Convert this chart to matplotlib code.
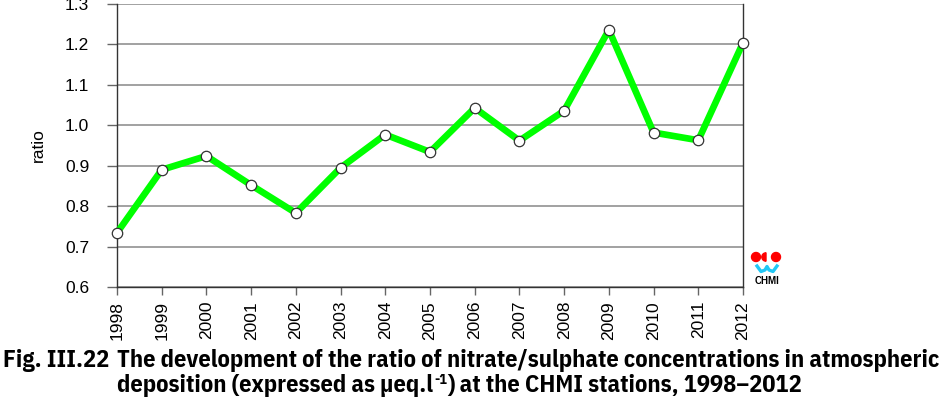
import matplotlib
matplotlib.use('Agg')
import matplotlib.pyplot as plt
from matplotlib import font_manager
from matplotlib.patches import Circle, Wedge

years = [1998, 1999, 2000, 2001, 2002, 2003, 2004, 2005,
         2006, 2007, 2008, 2009, 2010, 2011, 2012]
ratio = [0.734, 0.890, 0.924, 0.852, 0.783, 0.895, 0.977, 0.934,
         1.043, 0.962, 1.036, 1.236, 0.982, 0.963, 1.204]
yticks = [0.6, 0.7, 0.8, 0.9, 1.0, 1.1, 1.2, 1.3]

caption1 = 'The development of the ratio of nitrate/sulphate concentrations in atmospheric'
caption2a = 'deposition (expressed as µeq.l'
caption2b = ') at the CHMI stations, 1998\u20132012'

plt.rcParams['font.family'] = ['Liberation Sans', 'DejaVu Sans']

W, H = 950, 399
fig = plt.figure(figsize=(W / 100, H / 100), dpi=100)
fig.patch.set_facecolor('white')
ax = fig.add_axes([117 / W, 1 - 287 / H, 626 / W, 283 / H])

ax.plot(years, ratio, color='#00ff00', linewidth=4.8, zorder=3,
        marker='o', markersize=7.5, markerfacecolor='white',
        markeredgecolor='#333333', markeredgewidth=0.9, clip_on=False)

ax.set_xlim(1998, 2012)
ax.set_ylim(0.6, 1.3)
ax.set_yticks(yticks)
ax.set_yticklabels([f'{v:.1f}' for v in yticks])
ax.set_xticks(years)
ax.set_xticklabels([str(y) for y in years], rotation=90)
ax.yaxis.grid(True, color='#888888', linewidth=1.1)
ax.set_axisbelow(True)
for s in ax.spines.values():
    s.set_color('#333333')
    s.set_linewidth(1.0)
ax.spines['top'].set_visible(False)
ax.tick_params(axis='y', direction='out', length=7, width=1, color='#666666',
               labelsize=12.5, pad=13)
ax.tick_params(axis='x', direction='out', length=6, width=1, color='#666666',
               labelsize=12.5, pad=4)
ax.set_ylabel('ratio', fontsize=12.5, labelpad=14)

# CHMI logo (pixel coordinates, origin bottom-left)
for cx in (756, 776):
    fig.add_artist(Circle((cx, H - 257), 4.5, transform=None, color='#ff0000'))
fig.add_artist(Wedge((766, H - 257), 4.2, 90, 270, transform=None, color='#ff0000'))
wave_x = [757, 761, 765, 767, 769, 773, 777]
wave_y = [266, 271.5, 270, 266.5, 270, 271.5, 266]
fig.add_artist(plt.Line2D(wave_x, [H - v for v in wave_y], transform=None,
                          color='#22c8f5', linewidth=2.4, solid_joinstyle='round'))
fig.text(767 / W, 1 - 284 / H, 'CHMI', fontsize=7, fontweight='bold',
         ha='center', va='baseline')

# caption: pick the condensed bold family closest in width to the original
renderer = fig.canvas.get_renderer()
candidates = ['Barlow Semi Condensed', 'IBM Plex Sans Condensed', 'Fira Sans Condensed',
              'Asap Condensed', 'Encode Sans Condensed', 'Roboto Condensed']
best, best_err = None, None
for fam in candidates:
    try:
        font_manager.findfont(font_manager.FontProperties(family=fam, weight='bold'),
                              fallback_to_default=False)
    except ValueError:
        continue
    t = fig.text(0, 0, caption1, fontsize=14, fontweight='bold', family=fam)
    err = abs(t.get_window_extent(renderer).width - 829)
    t.remove()
    if best_err is None or err < best_err:
        best, best_err = fam, err
cap_font = [best or 'Liberation Sans', 'DejaVu Sans']

b1 = 1 - 367 / H
b2 = 1 - 392 / H
t1 = fig.text(117 / W, b1, caption1, fontsize=14, fontweight='bold',
              family=cap_font, va='baseline', ha='left')
fs = 14 * 829 / t1.get_window_extent(renderer).width
t1.set_fontsize(fs)
fig.text(3 / W, b1, 'Fig. III.22', fontsize=fs, fontweight='bold',
         family=cap_font, va='baseline', ha='left')

pa = fig.text(117 / W, b2, caption2a, fontsize=fs,
              fontweight='bold', family=cap_font, va='baseline', ha='left')
xa = pa.get_window_extent(renderer).x1
pb = fig.text(xa / W + 1 / W, b2 + 8 / H, '-1', fontsize=fs * 0.6,
              fontweight='bold', family=cap_font, va='baseline', ha='left')
xb = pb.get_window_extent(renderer).x1
fig.text(xb / W, b2, caption2b, fontsize=fs,
         fontweight='bold', family=cap_font, va='baseline', ha='left')

fig.savefig('out.png', dpi=100)
